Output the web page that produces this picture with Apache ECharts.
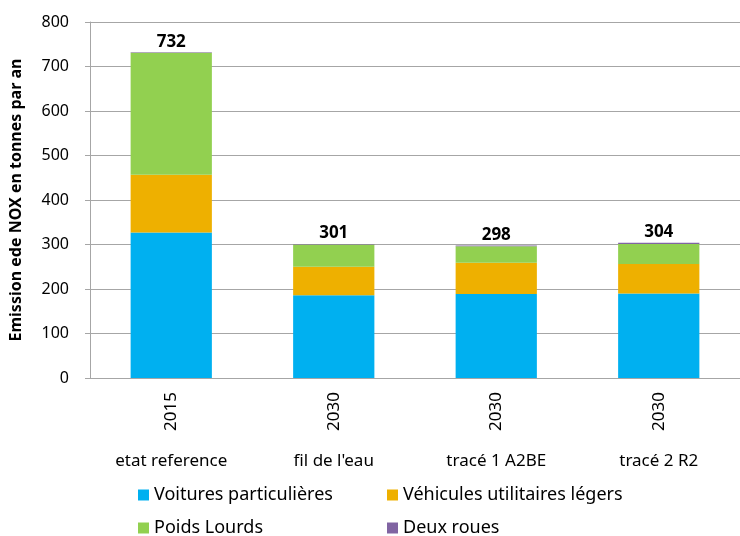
<!DOCTYPE html>
<html>
<head>
<meta charset="utf-8">
<script src="https://cdn.jsdelivr.net/npm/echarts@6/dist/echarts.min.js"></script>
<style>
  html, body { margin: 0; padding: 0; background: #fff; }
  #chart { width: 740px; height: 536px; }
</style>
</head>
<body>
<div id="chart"></div>
<script>
// data (tonnes of NOx per year)
const years = ['2015', '2030', '2030', '2030'];
const scenarios = ['etat reference', "fil de l'eau", 'tracé 1 A2BE', 'tracé 2 R2'];
const voitures = [327, 186, 189, 190];
const utilitaires = [130, 64, 70, 66];
const poidsLourds = [274, 50, 37, 45];
const deuxRoues = [1, 1, 2, 3];
const totals = [732, 301, 298, 304];

const font = 'Noto Sans';
const gray = '#a6a6a6';

const chart = echarts.init(document.getElementById('chart'));

const makeSeries = (name, data, color) => ({
  name: name,
  type: 'bar',
  stack: 'total',
  data: data,
  barWidth: '50%',
  itemStyle: { color: color }
});

const series = [
  makeSeries('Voitures particulières', voitures, '#00b0f0'),
  makeSeries('Véhicules utilitaires légers', utilitaires, '#eeb000'),
  makeSeries('Poids Lourds', poidsLourds, '#92d050'),
  makeSeries('Deux roues', deuxRoues, '#8064a2')
];
// total on top of each bar
series[3].label = {
  show: true,
  position: 'top',
  distance: 2,
  formatter: (p) => totals[p.dataIndex],
  fontFamily: font,
  fontWeight: 'bold',
  fontSize: 17,
  color: '#000'
};

// one legend per item so the two columns line up like the original
const legendItem = (name, left, top) => ({
  data: [name],
  left: left,
  top: top,
  icon: 'rect',
  itemWidth: 11,
  itemHeight: 11,
  itemGap: 0,
  padding: 0,
  textStyle: { fontFamily: font, fontSize: 18, color: '#000' }
});

const option = {
  animation: false,
  grid: { left: 90, right: -10, top: 22, bottom: 158 },
  legend: [
    legendItem('Voitures particulières', 138, 486),
    legendItem('Poids Lourds', 138, 519),
    legendItem('Véhicules utilitaires légers', 387, 486),
    legendItem('Deux roues', 387, 519)
  ],
  xAxis: [
    {
      type: 'category',
      data: years,
      position: 'bottom',
      axisLine: { lineStyle: { color: gray } },
      axisTick: { length: 91, interval: 0, lineStyle: { color: gray } },
      axisLabel: {
        rotate: 90,
        margin: 14,
        fontFamily: font,
        fontSize: 17,
        color: '#000'
      }
    },
    {
      type: 'category',
      data: scenarios,
      position: 'bottom',
      axisLine: { show: false },
      axisTick: { show: false },
      axisLabel: {
        margin: 75,
        fontFamily: font,
        fontSize: 17,
        color: '#000'
      }
    }
  ],
  yAxis: {
    type: 'value',
    min: 0,
    max: 800,
    interval: 100,
    name: 'Emission ede NOX en tonnes par an',
    nameLocation: 'middle',
    nameGap: 66,
    nameTextStyle: { fontFamily: font, fontWeight: 'bold', fontSize: 16, color: '#000' },
    axisLine: { show: true, lineStyle: { color: gray } },
    axisTick: { show: true, length: 5, lineStyle: { color: gray } },
    axisLabel: { margin: 21, fontFamily: font, fontSize: 16, color: '#000' },
    splitLine: { lineStyle: { color: gray } }
  },
  series: series
};

chart.setOption(option);
</script>
</body>
</html>
